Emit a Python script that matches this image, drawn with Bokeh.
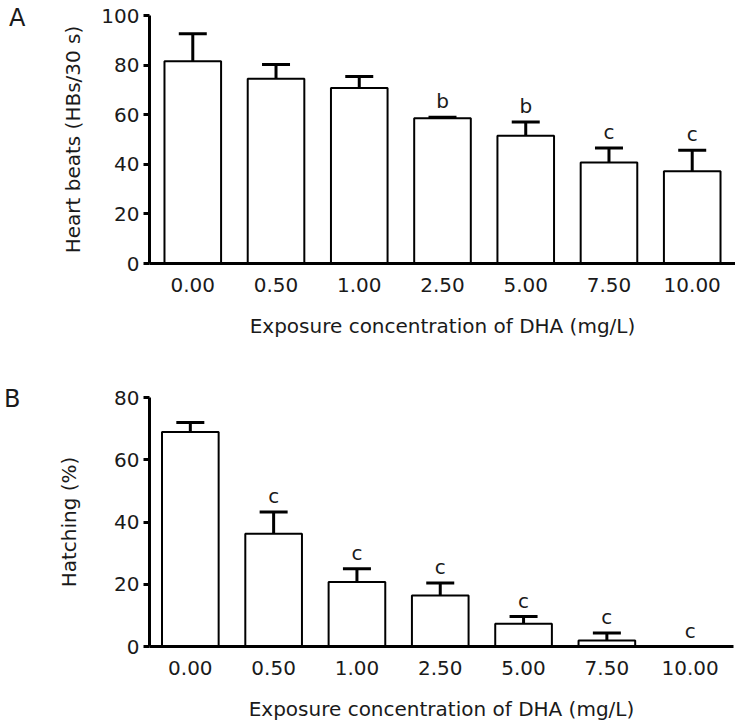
from bokeh.plotting import figure
from bokeh.models import (ColumnDataSource, Range1d, FixedTicker, Whisker, TeeHead, LinearAxis)
from bokeh.layouts import column
from bokeh.core.properties import value
from bokeh.embed import file_html
from bokeh.resources import INLINE

# ---- data ----
concentrations = ["0.00", "0.50", "1.00", "2.50", "5.00", "7.50", "10.00"]
heart_beats = [81.6, 74.5, 70.8, 58.6, 51.5, 40.7, 37.2]
heart_sem = [11.0, 5.7, 4.6, 0.4, 5.6, 5.9, 8.5]
heart_sig = ["", "", "", "b", "b", "c", "c"]
hatching = [68.9, 36.2, 20.7, 16.4, 7.3, 1.9, 0.0]
hatch_sem = [3.1, 7.0, 4.3, 4.0, 2.3, 2.4, 0.0]
hatch_sig = ["", "c", "c", "c", "c", "c", "c"]
heart_ticks = [0, 20, 40, 60, 80, 100]
hatch_ticks = [0, 20, 40, 60, 80]
panel_letters = ["A", "B"]

FONT = "DejaVu Sans"
TXT = "#1a1a1a"


def panel(vals, sems, sig, yticks, ytitle, x_range, frame_w, frame_h,
          mb_left, mb_top, mb_bottom, ylab_standoff,
          letter, letter_y, letter_standoff):
    xs = list(range(len(concentrations)))
    p = figure(frame_width=frame_w, frame_height=frame_h,
               x_range=Range1d(*x_range), y_range=Range1d(yticks[0], yticks[-1]),
               output_backend="svg", toolbar_location=None,
               min_border_left=mb_left, min_border_right=2,
               min_border_top=mb_top, min_border_bottom=mb_bottom)
    p.outline_line_color = None
    p.xgrid.visible = False
    p.ygrid.visible = False
    p.background_fill_color = "white"

    src = ColumnDataSource(dict(x=xs, top=vals,
                                upper=[v + s for v, s in zip(vals, sems)],
                                sig=sig))
    wsrc = ColumnDataSource(dict(
        x=[x for x, s in zip(xs, sems) if s > 0],
        lower=[v for v, s in zip(vals, sems) if s > 0],
        upper=[v + s for v, s in zip(vals, sems) if s > 0]))

    w = Whisker(source=wsrc, base="x", lower="lower", upper="upper",
                dimension="height", line_width=3, line_color="black",
                upper_head=TeeHead(size=28, line_width=3, line_color="black"),
                lower_head=None, level="underlay")
    p.add_layout(w)

    p.vbar(x="x", top="top", bottom=0, width=0.68, source=src,
           fill_color="white", line_color="black", line_width=2)

    p.text(x="x", y="upper", text="sig", source=src, y_offset=-16,
           text_align="center", text_baseline="alphabetic",
           text_font=value(FONT), text_font_size="20px", text_color=TXT)

    # x axis
    xa = p.xaxis[0]
    xa.ticker = FixedTicker(ticks=xs)
    xa.major_label_overrides = {i: c for i, c in enumerate(concentrations)}
    xa.major_tick_out = 0
    xa.major_tick_in = 0
    xa.minor_tick_out = 0
    xa.minor_tick_in = 0
    xa.major_label_standoff = 14
    xa.axis_label = "Exposure concentration of DHA (mg/L)"
    xa.axis_label_standoff = 19

    ya = p.yaxis[0]
    ya.ticker = FixedTicker(ticks=yticks)
    ya.major_tick_out = 6
    ya.major_tick_in = 0
    ya.minor_tick_out = 0
    ya.minor_tick_in = 0
    ya.major_label_standoff = 4
    ya.axis_label = ytitle
    ya.axis_label_standoff = ylab_standoff

    for ax in (xa, ya):
        ax.axis_line_width = 3
        ax.axis_line_color = "black"
        ax.major_tick_line_width = 3
        ax.major_tick_line_color = "black"
        ax.major_label_text_font = FONT
        ax.major_label_text_font_size = "20px"
        ax.major_label_text_color = TXT
        ax.axis_label_text_font = FONT
        ax.axis_label_text_font_size = "20px"
        ax.axis_label_text_font_style = "normal"
        ax.axis_label_text_color = TXT

    # panel letter: an outer left axis carrying a single labelled tick
    la = LinearAxis(ticker=FixedTicker(ticks=[letter_y]),
                    major_label_overrides={letter_y: letter},
                    axis_line_color=None, major_tick_line_color=None,
                    minor_tick_line_color=None, major_tick_out=0, major_tick_in=0,
                    major_label_standoff=letter_standoff,
                    major_label_text_font=FONT, major_label_text_font_size="24px",
                    major_label_text_color=TXT)
    p.add_layout(la, "left")
    return p


pA = panel(heart_beats, heart_sem, heart_sig, heart_ticks, "Heart beats (HBs/30 s)",
           (-0.52, 6.52), 586, 248, 147, 15, 82, 13,
           panel_letters[0], 98.8, 33)
pB = panel(hatching, hatch_sem, hatch_sig, hatch_ticks, "Hatching (%)",
           (-0.49, 6.52), 584, 249, 149, 52, 72, 30,
           panel_letters[1], 79.45, 34)

layout = column(pA, pB)
open("out.html", "w").write(file_html(layout, INLINE))
